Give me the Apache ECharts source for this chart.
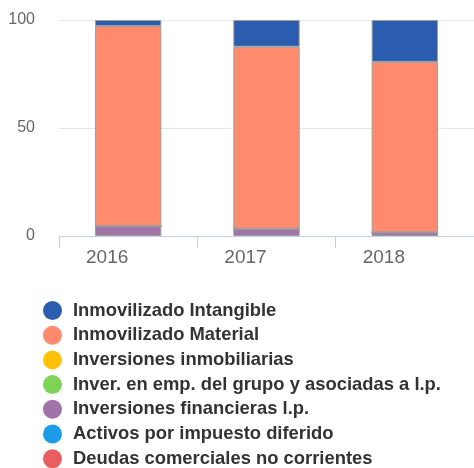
<!DOCTYPE html>
<html>
<head>
<meta charset="utf-8">
<script src="https://cdn.jsdelivr.net/npm/echarts@6/dist/echarts.min.js"></script>
<style>
  html, body { margin: 0; padding: 0; background: #fff; }
  #chart { width: 474px; height: 468px; }
</style>
</head>
<body>
<div id="chart"></div>
<script>
var years = ["2016", "2017", "2018"];

var seriesNames = [
    "Inmovilizado Intangible",
    "Inmovilizado Material",
    "Inversiones inmobiliarias",
    "Inver. en emp. del grupo y asociadas a l.p.",
    "Inversiones financieras l.p.",
    "Activos por impuesto diferido",
    "Deudas comerciales no corrientes"
];
var colors = ["#2a5db0", "#ff8a6e", "#ffc107", "#7ed356", "#a074a8", "#1e9be8", "#e95f5f"];

// percentages per year
var intangible = [2.8, 12.4, 19.4];
var material = [92.6, 84.2, 78.9];
var inmobiliarias = [0, 0, 0];
var grupo = [0, 0, 0];
var financieras = [4.6, 3.4, 1.7];
var impuesto = [0, 0, 0];
var deudas = [0, 0, 0];

var values = [intangible, material, inmobiliarias, grupo, financieras, impuesto, deudas];
// stack order bottom to top
var stackOrder = [4, 3, 2, 5, 6, 1, 0];

var chart = echarts.init(document.getElementById("chart"));

var series = [];
stackOrder.forEach(function (i) {
    series.push({
        name: seriesNames[i],
        type: "bar",
        stack: "total",
        barWidth: "48%",
        data: values[i],
        itemStyle: { color: colors[i], borderColor: "#9e9e9e", borderWidth: 1 }
    });
});

chart.setOption({
    animation: false,
    color: colors,
    grid: { left: 59, right: 0, top: 20, bottom: 232, containLabel: false },
    xAxis: {
        type: "category",
        data: years,
        axisLine: { lineStyle: { color: "#c3cfe8" } },
        axisTick: { show: true, length: 12, lineStyle: { color: "#c3cfe8", width: 1 } },
        axisLabel: {
            color: "#666", fontSize: 19, fontFamily: "Liberation Sans",
            margin: 12, padding: [0, 42, 0, 0]
        }
    },
    yAxis: {
        type: "value",
        min: 0,
        max: 100,
        interval: 50,
        axisLine: { show: false },
        axisTick: { show: false },
        splitLine: { lineStyle: { color: "#e6e6e6" } },
        axisLabel: { color: "#666", fontSize: 16, fontFamily: "Liberation Sans", margin: 24 }
    },
    legend: {
        orient: "vertical",
        left: 38,
        top: 296,
        height: 200,
        icon: "circle",
        itemWidth: 19,
        itemHeight: 19,
        itemGap: 5.7,
        itemStyle: { borderWidth: 0 },
        data: seriesNames,
        textStyle: {
            color: "#333", fontSize: 18.4, fontWeight: "bold", fontFamily: "Liberation Sans",
            lineHeight: 19, padding: [0, 0, 0, 6]
        }
    },
    series: series
});
</script>
</body>
</html>
